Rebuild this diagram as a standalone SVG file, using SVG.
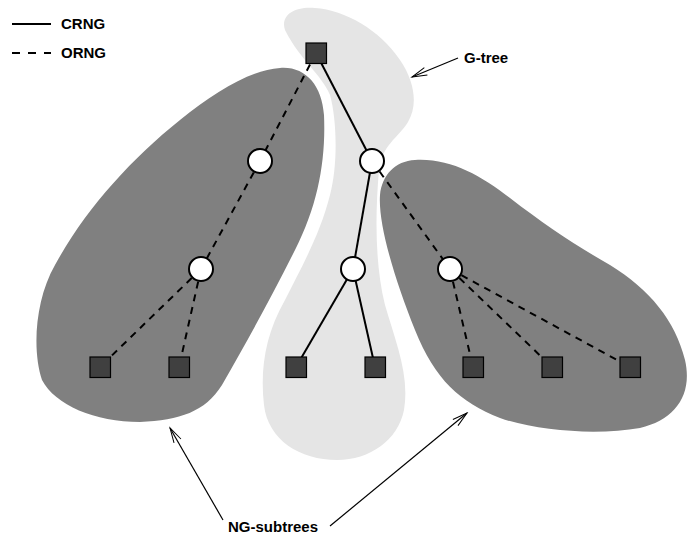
<svg xmlns="http://www.w3.org/2000/svg" width="689" height="535" viewBox="0 0 689 535">
  <defs>
    <marker id="open-arrow" viewBox="-16 -5 18 10" refX="0" refY="0" markerWidth="18" markerHeight="10" markerUnits="userSpaceOnUse" orient="auto">
      <path d="M-15,-4 L0,0 L-15,4" fill="none" stroke="#000" stroke-width="1"/>
    </marker>
  </defs>
  <style>
    .g-tree { fill: #e5e5e5; }
    .ng-subtree { fill: #808080; }
    .edge { stroke: #000; stroke-width: 2; fill: none; }
    .dashed { stroke-dasharray: 7 6; }
    .leaf { fill: #404040; stroke: #000; stroke-width: 1.2; }
    .inner { fill: #fff; stroke: #000; stroke-width: 2; }
    .label { font-family: "Liberation Sans", Arial, Helvetica, sans-serif; font-weight: bold; font-size: 15px; fill: #000; }
    .pointer { stroke: #000; stroke-width: 1.2; fill: none; marker-end: url(#open-arrow); }
  </style>

  <!-- regions -->
  <g id="region-g-tree">
    <path class="g-tree" d="M285,30 C280,15 295,6 315,8 C345,10 380,30 400,60 C415,82 418,105 408,122 C398,138 382,145 379,170 C375,215 375,265 385,305 C395,340 410,375 404,410 C398,440 370,460 337,460 C300,460 268,440 264,405 C260,370 265,335 285,300 C300,270 320,235 330,195 C338,165 337,120 330,95 C322,75 300,60 285,30 Z"/>
  </g>
  <g id="region-ng-left">
    <path class="ng-subtree" d="M280,68 C305,66 322,85 324,115 C326,160 318,205 295,250 C270,300 245,345 222,385 C205,412 180,420 140,422 C95,422 55,405 42,380 C32,350 35,300 55,265 C85,210 130,160 180,120 C215,92 250,70 280,68 Z"/>
  </g>
  <g id="region-ng-right">
    <path class="ng-subtree" d="M415,160 C450,158 480,175 510,198 C545,225 575,245 610,265 C650,290 675,320 685,360 C693,395 675,420 640,428 C600,435 540,432 500,418 C460,402 435,380 415,330 C395,280 378,225 380,195 C382,175 395,161 415,160 Z"/>
  </g>

  <!-- tree edges -->
  <g id="edges">
    <line class="edge dashed" x1="316" y1="53" x2="260" y2="161"/>
    <line class="edge dashed" x1="260" y1="161" x2="201" y2="269"/>
    <line class="edge dashed" x1="201" y1="269" x2="100" y2="367"/>
    <line class="edge dashed" x1="201" y1="269" x2="179" y2="367"/>
    <line class="edge" x1="316" y1="53" x2="372" y2="161"/>
    <line class="edge" x1="372" y1="161" x2="353" y2="269"/>
    <line class="edge" x1="353" y1="269" x2="296" y2="367"/>
    <line class="edge" x1="353" y1="269" x2="375" y2="367"/>
    <line class="edge dashed" x1="372" y1="161" x2="450" y2="269"/>
    <line class="edge dashed" x1="450" y1="269" x2="473" y2="367"/>
    <line class="edge dashed" x1="450" y1="269" x2="552" y2="367"/>
    <line class="edge dashed" x1="450" y1="269" x2="630" y2="367"/>
  </g>

  <!-- nodes -->
  <g id="root"><rect class="leaf" x="306" y="43" width="20.5" height="20.5"/></g>
  <g id="n-left-1"><circle class="inner" cx="260" cy="161" r="12"/></g>
  <g id="n-left-2"><circle class="inner" cx="201" cy="269" r="12"/></g>
  <g id="n-mid-1"><circle class="inner" cx="372" cy="161" r="12"/></g>
  <g id="n-mid-2"><circle class="inner" cx="353" cy="269" r="12"/></g>
  <g id="n-right-1"><circle class="inner" cx="450" cy="269" r="12"/></g>
  <g id="leaf-1"><rect class="leaf" x="90" y="357" width="20.5" height="20.5"/></g>
  <g id="leaf-2"><rect class="leaf" x="169" y="357" width="20.5" height="20.5"/></g>
  <g id="leaf-3"><rect class="leaf" x="286" y="357" width="20.5" height="20.5"/></g>
  <g id="leaf-4"><rect class="leaf" x="365" y="357" width="20.5" height="20.5"/></g>
  <g id="leaf-5"><rect class="leaf" x="463" y="357" width="20.5" height="20.5"/></g>
  <g id="leaf-6"><rect class="leaf" x="542" y="357" width="20.5" height="20.5"/></g>
  <g id="leaf-7"><rect class="leaf" x="620" y="357" width="20.5" height="20.5"/></g>

  <!-- legend -->
  <g id="legend">
    <line class="edge" x1="12" y1="24" x2="51" y2="24"/>
    <text class="label" x="61" y="29.3">CRNG</text>
    <line class="edge" x1="12" y1="53" x2="51" y2="53" stroke-dasharray="8 8"/>
    <text class="label" x="61" y="58.3">ORNG</text>
  </g>

  <!-- annotations -->
  <g id="annotations">
    <line class="pointer" x1="458" y1="58" x2="412" y2="77"/>
    <text class="label" x="464" y="63.3">G-tree</text>
    <line class="pointer" x1="223" y1="520" x2="170" y2="428"/>
    <line class="pointer" x1="330" y1="526" x2="467" y2="413"/>
    <text class="label" x="228" y="532">NG-subtrees</text>
  </g>
</svg>
